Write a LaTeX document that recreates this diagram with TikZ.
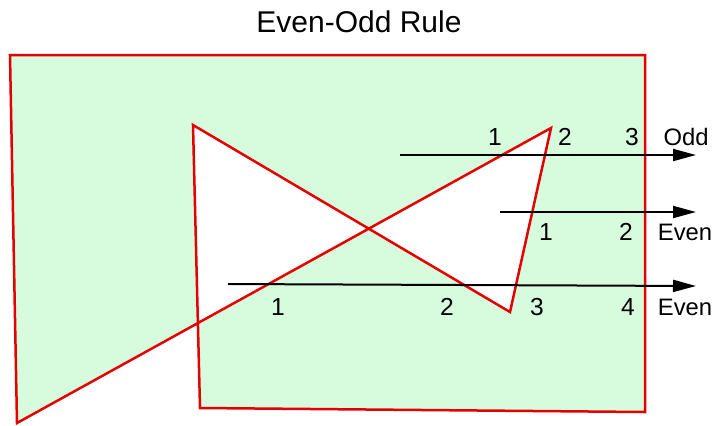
\documentclass[tikz,border=0pt]{standalone}
\usepackage{fontspec}
\setmainfont{Liberation Sans}
\usepackage{tikz}
\usetikzlibrary{arrows.meta}
\definecolor{edgered}{RGB}{228,0,0}
\definecolor{fillgreen}{RGB}{215,252,221}

\begin{document}
\begin{tikzpicture}[
  x=0.5pt, y=-0.5pt,
  outline/.style={draw=edgered, line width=1.25pt, fill=fillgreen, even odd rule, line join=miter},
  ray/.style={-{Triangle[length=11.5pt, width=6pt]}, line width=1pt, black},
  count/.style={font=\fontsize{12.3}{14}\selectfont, inner sep=0pt},
  verdict/.style={font=\fontsize{11.9}{14}\selectfont, inner sep=0pt},
]
\useasboundingbox (0,0) rectangle (714,425);

% Title
\node[font=\fontsize{15}{18}\selectfont] (title) at (359,22) {Even-Odd Rule};

% Self-intersecting polygon, filled by the even-odd rule
\draw[outline] (10,55) -- (645,55) -- (645,412) -- (200,408) -- (193,125)
  -- (510,312) -- (551,128) -- (17,423) -- cycle;

% Ray end points
\coordinate (oddA) at (400,155);
\coordinate (oddB) at (696,155);
\coordinate (midA) at (500,212);
\coordinate (midB) at (696,212);
\coordinate (lowA) at (228,284);
\coordinate (lowB) at (696,286);

% Rays
\draw[ray] (oddA) -- (oddB);
\draw[ray] (midA) -- (midB);
\draw[ray] (lowA) -- (lowB);

% Crossing counts, top ray
\node[count] (o1) at (495,137) {1};
\node[count] (o2) at (565,137) {2};
\node[count] (o3) at (632,137) {3};
\node[verdict] (oddtxt) at (686,137) {Odd};

% Crossing counts, middle ray
\node[count] (m1) at (546,232) {1};
\node[count] (m2) at (626,232) {2};
\node[verdict] (eventxtA) at (685,232) {Even};

% Crossing counts, lower ray
\node[count] (l1) at (278,307) {1};
\node[count] (l2) at (447,307) {2};
\node[count] (l3) at (537,307) {3};
\node[count] (l4) at (628,307) {4};
\node[verdict] (eventxtB) at (685,307) {Even};

\end{tikzpicture}
\end{document}
